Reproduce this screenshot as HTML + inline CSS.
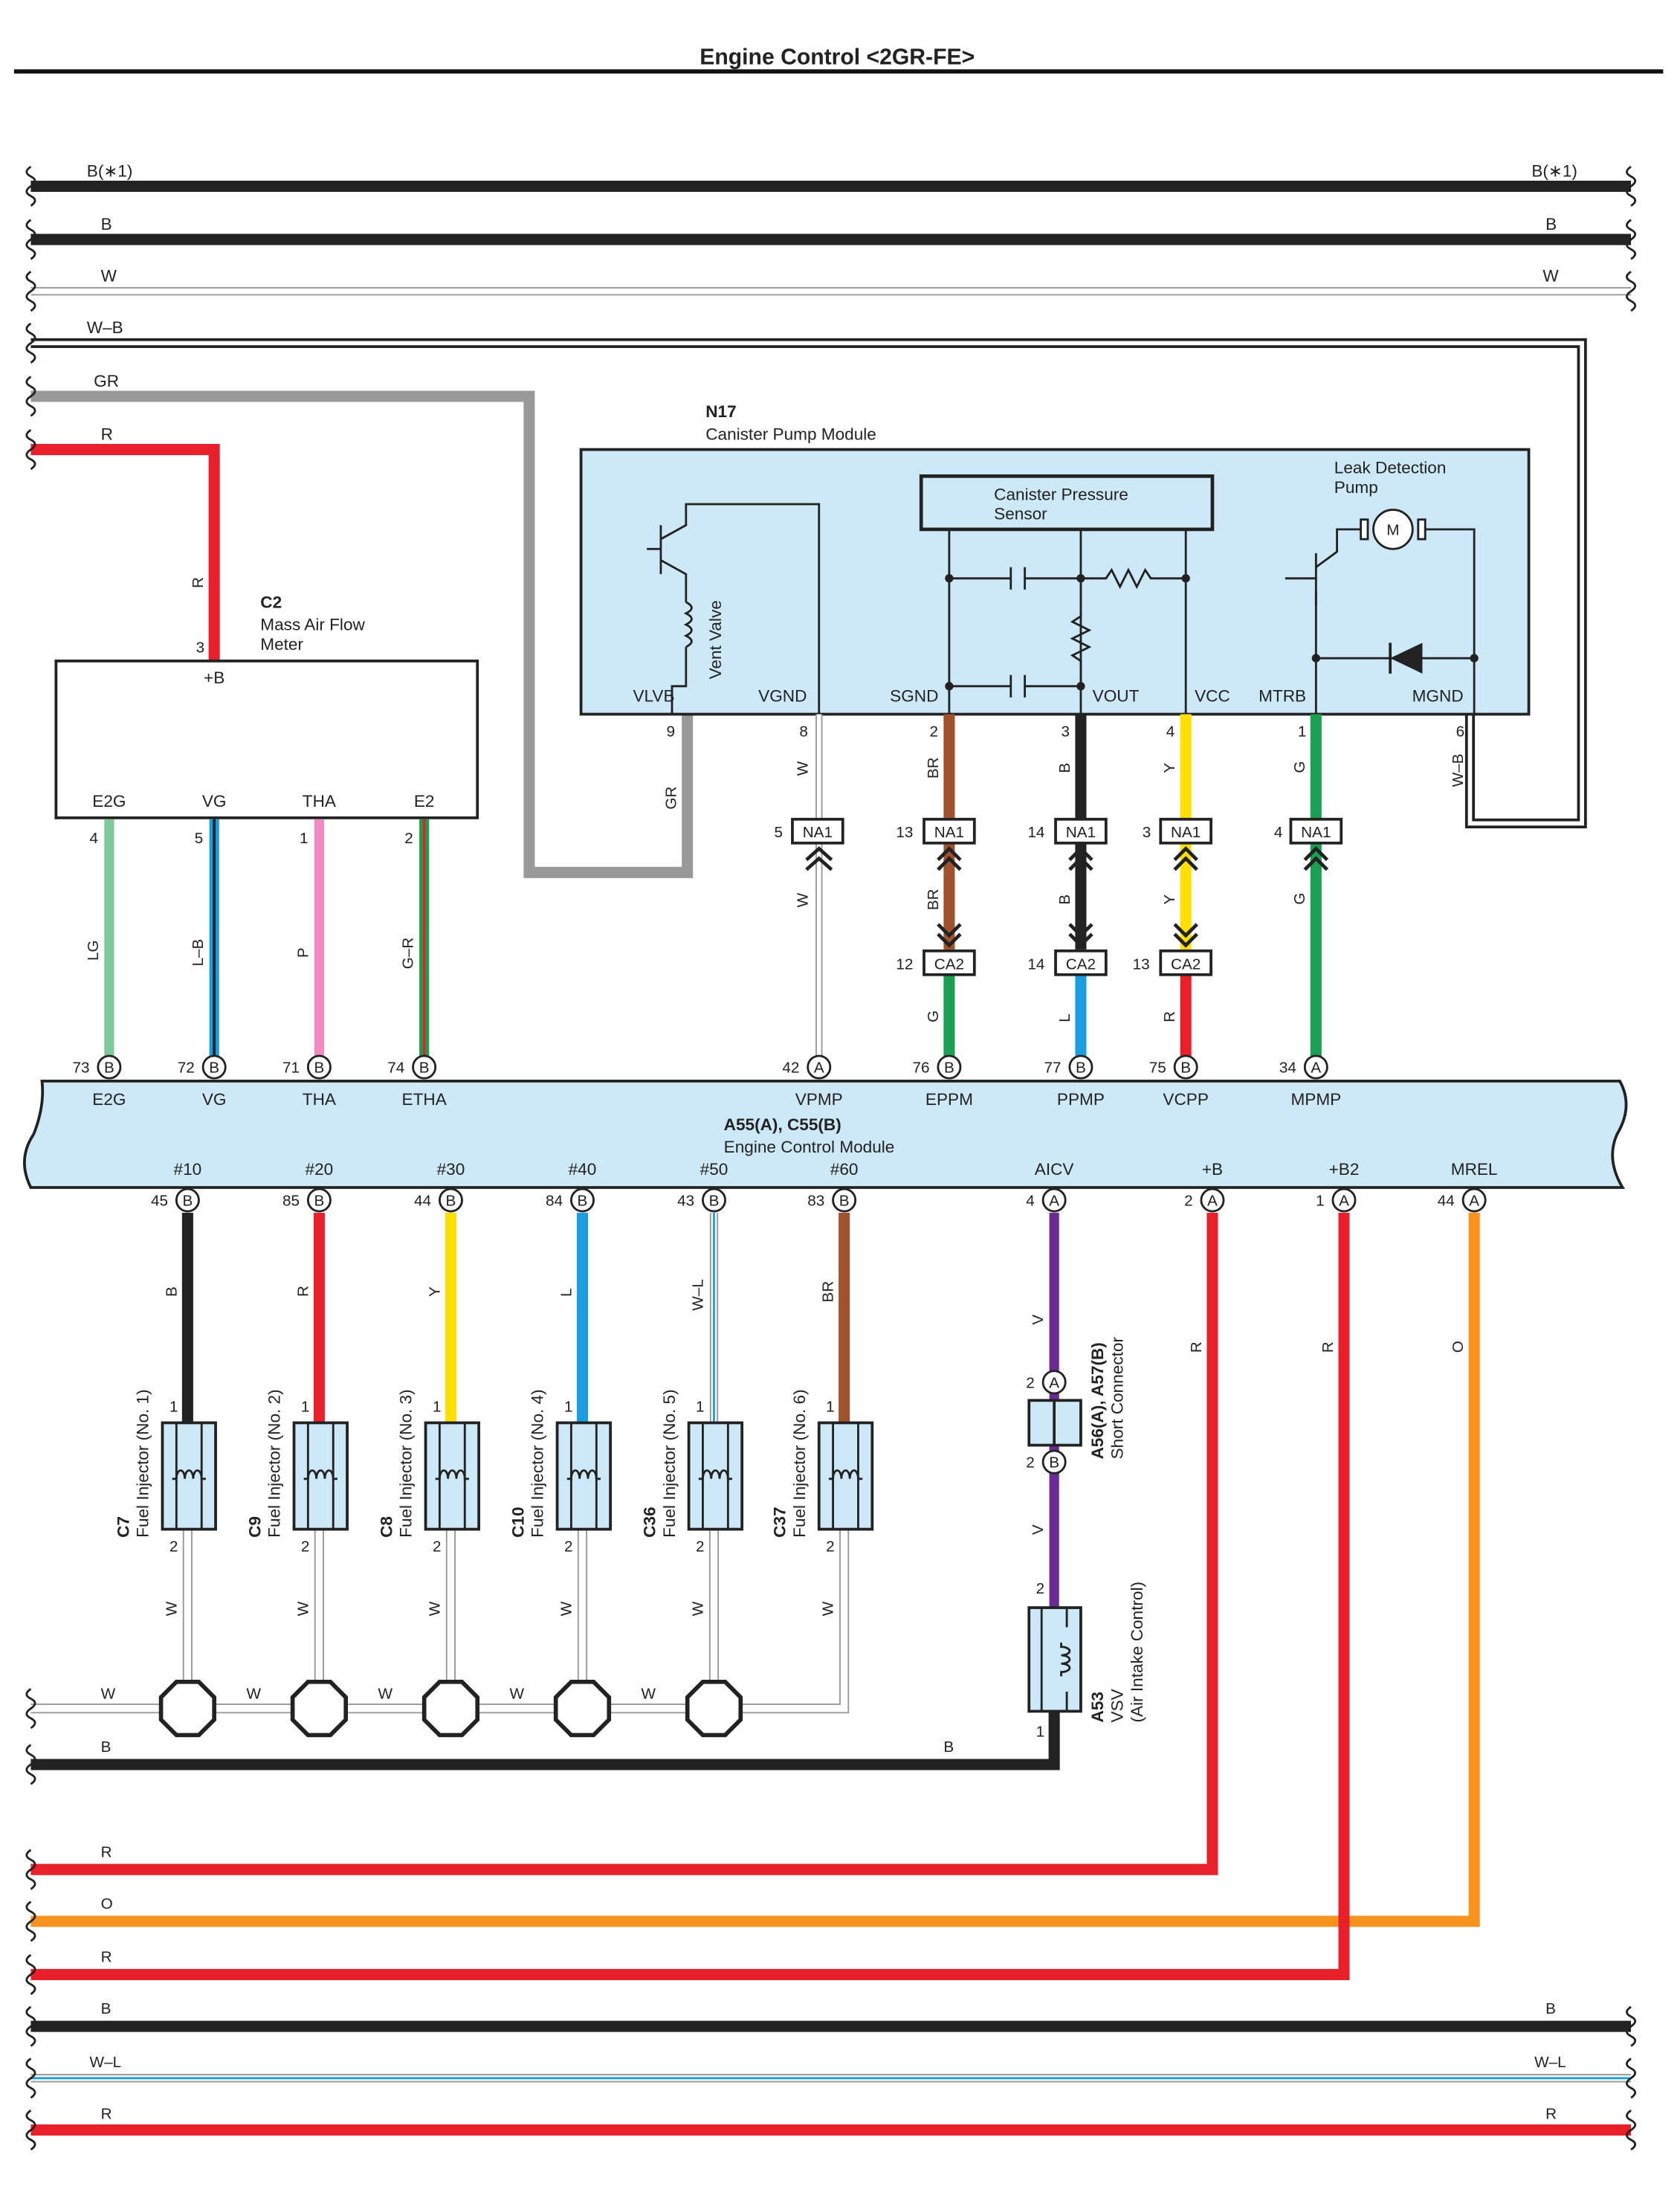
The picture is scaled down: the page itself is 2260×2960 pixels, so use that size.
<!DOCTYPE html>
<html><head><meta charset="utf-8"><style>
html,body{margin:0;padding:0;background:#fff}
svg{display:block}
text{font-family:"Liberation Sans",sans-serif;fill:#222}
</style></head><body>
<svg width="2260" height="2960" viewBox="0 0 1200 1571.7" xmlns="http://www.w3.org/2000/svg">
<defs>
<g id="sq"><path d="M0,-14 q-6,4 0,7 q6,3 0,7 q-6,4 0,7 q6,3 0,7" fill="none" stroke="#222" stroke-width="1.5"/></g>
<path id="coil" d="M-12,0 H-9 a3,6 0 1 1 6,0 a3,6 0 1 1 6,0 a3,6 0 1 1 6,0 H12" fill="none" stroke="#222" stroke-width="1.5"/>
</defs>
<text x="598" y="46" font-size="16" font-weight="bold" text-anchor="middle">Engine Control &lt;2GR-FE&gt;</text>
<line x1="10" y1="51" x2="1188" y2="51" stroke="#111" stroke-width="3"/>

<!-- top buses -->
<line x1="22" y1="133" x2="1165" y2="133" stroke="#222" stroke-width="8"/>
<line x1="22" y1="171" x2="1165" y2="171" stroke="#222" stroke-width="8"/>
<line x1="22" y1="208" x2="1165" y2="208" stroke="#999" stroke-width="6"/><line x1="22" y1="208" x2="1165" y2="208" stroke="#fff" stroke-width="4"/>
<path d="M22,245 H1130 V588 H1050 V510" fill="none" stroke="#222" stroke-width="7"/>
<path d="M22,245 H1130 V588 H1050 V510" fill="none" stroke="#fff" stroke-width="3"/>
<path d="M22,283 H378 V623 H491 V510" fill="none" stroke="#999" stroke-width="8"/>
<path d="M22,321 H153 V472" fill="none" stroke="#e8202a" stroke-width="8"/>
<g font-size="12"><text x="62" y="126">B(∗1)</text><text x="1094" y="126">B(∗1)</text>
<text x="72" y="164">B</text><text x="1104" y="164">B</text>
<text x="72" y="201">W</text><text x="1102" y="201">W</text>
<text x="62" y="238">W–B</text><text x="67" y="276">GR</text><text x="72" y="314">R</text></g>
<use href="#sq" x="22" y="133"/><use href="#sq" x="22" y="171"/><use href="#sq" x="22" y="208"/><use href="#sq" x="22" y="245"/><use href="#sq" x="22" y="283"/><use href="#sq" x="22" y="321"/>
<use href="#sq" x="1165" y="133"/><use href="#sq" x="1165" y="171"/><use href="#sq" x="1165" y="208"/>

<!-- C2 -->
<text x="186" y="434" font-size="12" font-weight="bold">C2</text>
<text x="186" y="450" font-size="12">Mass Air Flow</text><text x="186" y="464" font-size="12">Meter</text>
<text x="140" y="466" font-size="11">3</text>
<text x="145" y="420" font-size="11" transform="rotate(-90 145 420)">R</text>
<rect x="40" y="472" width="301" height="112" fill="#fff" stroke="#222" stroke-width="2"/>
<g font-size="12" text-anchor="middle"><text x="153" y="488">+B</text><text x="78" y="576">E2G</text><text x="153" y="576">VG</text><text x="228" y="576">THA</text><text x="303" y="576">E2</text></g>
<line x1="78" y1="585" x2="78" y2="760" stroke="#7ec89a" stroke-width="7"/>
<line x1="153" y1="585" x2="153" y2="760" stroke="#1a9ee0" stroke-width="7"/><line x1="153" y1="585" x2="153" y2="760" stroke="#222" stroke-width="2"/>
<line x1="228" y1="585" x2="228" y2="760" stroke="#f08ac0" stroke-width="7"/>
<line x1="303" y1="585" x2="303" y2="760" stroke="#1aa050" stroke-width="7"/><line x1="303" y1="585" x2="303" y2="760" stroke="#e8202a" stroke-width="2"/>
<g font-size="11"><text x="64" y="602">4</text><text x="139" y="602">5</text><text x="214" y="602">1</text><text x="289" y="602">2</text>
<text x="70" y="686" transform="rotate(-90 70 686)">LG</text><text x="145" y="690" transform="rotate(-90 145 690)">L–B</text><text x="220" y="684" transform="rotate(-90 220 684)">P</text><text x="295" y="692" transform="rotate(-90 295 692)">G–R</text></g>

<!-- N17 -->
<text x="504" y="298" font-size="12" font-weight="bold">N17</text>
<text x="504" y="314" font-size="12">Canister Pump Module</text>
<rect x="415" y="321" width="677" height="189" fill="#cde9f8" stroke="#222" stroke-width="2"/>
<g fill="none" stroke="#222" stroke-width="1.5">
<line x1="472" y1="375" x2="472" y2="410"/><line x1="462" y1="392" x2="472" y2="392"/>
<path d="M472,385 L490,375 V360 H585 V510"/><path d="M472,400 L490,410 V430"/>
<path d="M490,430 q8,4 0,8 q8,4 0,8 q8,4 0,8 q8,4 0,8"/><path d="M490,462 V490 H480 V510"/>
<rect x="658" y="340" width="208" height="38" stroke-width="2.5" fill="#cde9f8"/>
<path d="M678,378 V510 M772,378 V510 M847,378 V510"/>
<path d="M678,413 H722 M732,413 H772 M722,405 V421 M732,405 V421"/>
<path d="M772,413 H790 l4,-6 l6,12 l6,-12 l6,12 l6,-12 l4,6 H847"/>
<path d="M772,413 V440 l-6,4 l12,6 l-12,6 l12,6 l-12,6 l6,4 V490"/>
<path d="M678,490 H722 M732,490 H772 M722,482 V498 M732,482 V498"/>
<line x1="940" y1="395" x2="940" y2="432"/><line x1="918" y1="413" x2="940" y2="413"/>
<path d="M940,405 L955,394 V378 H975 M1015,378 H1053 V510"/><path d="M940,422 L940,470 V510"/>
<circle cx="995" cy="378" r="14" fill="#fff"/><rect x="972" y="371" width="5" height="14" fill="#fff"/><rect x="1013" y="371" width="5" height="14" fill="#fff"/>
<path d="M940,470 H1053"/></g>
<path d="M993,470 L1016,459 V481 Z" fill="#222"/><line x1="993" y1="459" x2="993" y2="481" stroke="#222" stroke-width="2"/>
<g fill="#222"><circle cx="678" cy="413" r="3"/><circle cx="772" cy="413" r="3"/><circle cx="847" cy="413" r="3"/><circle cx="678" cy="490" r="3"/><circle cx="772" cy="490" r="3"/><circle cx="940" cy="470" r="3"/><circle cx="1053" cy="470" r="3"/></g>
<text x="995" y="382" font-size="11" text-anchor="middle">M</text>
<text x="710" y="357" font-size="12">Canister Pressure</text><text x="710" y="371" font-size="12">Sensor</text>
<text x="953" y="338" font-size="12">Leak Detection</text><text x="953" y="352" font-size="12">Pump</text>
<text x="515" y="485" font-size="12" transform="rotate(-90 515 485)">Vent Valve</text>
<g font-size="12" text-anchor="middle"><text x="467" y="501">VLVB</text><text x="559" y="501">VGND</text><text x="653" y="501">SGND</text><text x="797" y="501">VOUT</text><text x="866" y="501">VCC</text><text x="916" y="501">MTRB</text><text x="1027" y="501">MGND</text></g>
<g font-size="11"><text x="476" y="526">9</text><text x="571" y="526">8</text><text x="664" y="526">2</text><text x="758" y="526">3</text><text x="833" y="526">4</text><text x="927" y="526">1</text><text x="1040" y="526">6</text>
<text x="483" y="578" transform="rotate(-90 483 578)">GR</text><text x="1045" y="562" transform="rotate(-90 1045 562)">W–B</text></g>

<!-- N17 wires -->
<g>
<line x1="585" y1="510" x2="585" y2="760" stroke="#999" stroke-width="5"/><line x1="585" y1="510" x2="585" y2="760" stroke="#fff" stroke-width="3"/>
<line x1="678" y1="510" x2="678" y2="678" stroke="#a0522d" stroke-width="8"/><line x1="678" y1="696" x2="678" y2="760" stroke="#1aa050" stroke-width="8"/>
<line x1="772" y1="510" x2="772" y2="678" stroke="#222" stroke-width="8"/><line x1="772" y1="696" x2="772" y2="760" stroke="#1a9ee0" stroke-width="8"/>
<line x1="847" y1="510" x2="847" y2="678" stroke="#ffe000" stroke-width="8"/><line x1="847" y1="696" x2="847" y2="760" stroke="#e8202a" stroke-width="8"/>
<line x1="940" y1="510" x2="940" y2="760" stroke="#1aa050" stroke-width="8"/>
</g>
<g font-size="11">
<text x="577" y="554" transform="rotate(-90 577 554)">W</text><text x="670" y="556" transform="rotate(-90 670 556)">BR</text><text x="764" y="552" transform="rotate(-90 764 552)">B</text><text x="839" y="552" transform="rotate(-90 839 552)">Y</text><text x="932" y="552" transform="rotate(-90 932 552)">G</text>
<text x="577" y="648" transform="rotate(-90 577 648)">W</text><text x="670" y="650" transform="rotate(-90 670 650)">BR</text><text x="764" y="646" transform="rotate(-90 764 646)">B</text><text x="839" y="646" transform="rotate(-90 839 646)">Y</text><text x="932" y="646" transform="rotate(-90 932 646)">G</text>
<text x="670" y="730" transform="rotate(-90 670 730)">G</text><text x="764" y="730" transform="rotate(-90 764 730)">L</text><text x="839" y="730" transform="rotate(-90 839 730)">R</text>
<text x="553" y="598">5</text><text x="640" y="598">13</text><text x="734" y="598">14</text><text x="816" y="598">3</text><text x="910" y="598">4</text>
<text x="640" y="692">12</text><text x="734" y="692">14</text><text x="809" y="692">13</text></g>
<g font-size="11" text-anchor="middle">
<g stroke="#222" stroke-width="2" fill="#fff"><rect x="566" y="585" width="36" height="17"/><rect x="660" y="585" width="36" height="17"/><rect x="754" y="585" width="36" height="17"/><rect x="829" y="585" width="36" height="17"/><rect x="922" y="585" width="36" height="17"/>
<rect x="660" y="679" width="36" height="17"/><rect x="754" y="679" width="36" height="17"/><rect x="829" y="679" width="36" height="17"/></g>
<text x="584" y="598">NA1</text><text x="678" y="598">NA1</text><text x="772" y="598">NA1</text><text x="847" y="598">NA1</text><text x="940" y="598">NA1</text>
<text x="678" y="692">CA2</text><text x="772" y="692">CA2</text><text x="847" y="692">CA2</text></g>
<g fill="none" stroke="#222" stroke-width="2.5">
<path d="M576,614 l9,-8 l9,8 M576,621 l9,-8 l9,8"/><path d="M670,614 l8,-8 l8,8 M670,621 l8,-8 l8,8"/><path d="M764,614 l8,-8 l8,8 M764,621 l8,-8 l8,8"/><path d="M839,614 l8,-8 l8,8 M839,621 l8,-8 l8,8"/><path d="M932,614 l8,-8 l8,8 M932,621 l8,-8 l8,8"/>
<path d="M670,660 l8,8 l8,-8 M670,667 l8,8 l8,-8"/><path d="M764,660 l8,8 l8,-8 M764,667 l8,8 l8,-8"/><path d="M839,660 l8,8 l8,-8 M839,667 l8,8 l8,-8"/></g>

<!-- ECM -->
<path d="M30,772 H1157 q10,18 -2,38 q-8,18 4,38 H22 q-10,-20 2,-38 q8,-20 6,-38 Z" fill="#cde9f8" stroke="#222" stroke-width="2"/>
<g font-size="12" text-anchor="middle">
<text x="78" y="789">E2G</text><text x="153" y="789">VG</text><text x="228" y="789">THA</text><text x="303" y="789">ETHA</text><text x="585" y="789">VPMP</text><text x="678" y="789">EPPM</text><text x="772" y="789">PPMP</text><text x="847" y="789">VCPP</text><text x="940" y="789">MPMP</text>
<text x="134" y="839">#10</text><text x="228" y="839">#20</text><text x="322" y="839">#30</text><text x="416" y="839">#40</text><text x="510" y="839">#50</text><text x="603" y="839">#60</text><text x="753" y="839">AICV</text><text x="866" y="839">+B</text><text x="960" y="839">+B2</text><text x="1053" y="839">MREL</text></g>
<text x="517" y="807" font-size="12" font-weight="bold">A55(A), C55(B)</text>
<text x="517" y="823" font-size="12">Engine Control Module</text>
<g stroke="#222" stroke-width="1.5" fill="#fff">
<circle cx="78" cy="762" r="8"/><circle cx="153" cy="762" r="8"/><circle cx="228" cy="762" r="8"/><circle cx="303" cy="762" r="8"/><circle cx="585" cy="762" r="8"/><circle cx="678" cy="762" r="8"/><circle cx="772" cy="762" r="8"/><circle cx="847" cy="762" r="8"/><circle cx="940" cy="762" r="8"/>
<circle cx="134" cy="857" r="8"/><circle cx="228" cy="857" r="8"/><circle cx="322" cy="857" r="8"/><circle cx="416" cy="857" r="8"/><circle cx="510" cy="857" r="8"/><circle cx="603" cy="857" r="8"/><circle cx="753" cy="857" r="8"/><circle cx="866" cy="857" r="8"/><circle cx="960" cy="857" r="8"/><circle cx="1053" cy="857" r="8"/>
</g>
<g font-size="11" text-anchor="middle">
<text x="78" y="766">B</text><text x="153" y="766">B</text><text x="228" y="766">B</text><text x="303" y="766">B</text><text x="585" y="766">A</text><text x="678" y="766">B</text><text x="772" y="766">B</text><text x="847" y="766">B</text><text x="940" y="766">A</text>
<text x="134" y="861">B</text><text x="228" y="861">B</text><text x="322" y="861">B</text><text x="416" y="861">B</text><text x="510" y="861">B</text><text x="603" y="861">B</text><text x="753" y="861">A</text><text x="866" y="861">A</text><text x="960" y="861">A</text><text x="1053" y="861">A</text>
</g>
<g font-size="11" text-anchor="end">
<text x="64" y="766">73</text><text x="139" y="766">72</text><text x="214" y="766">71</text><text x="289" y="766">74</text><text x="571" y="766">42</text><text x="664" y="766">76</text><text x="758" y="766">77</text><text x="833" y="766">75</text><text x="926" y="766">34</text>
<text x="120" y="861">45</text><text x="214" y="861">85</text><text x="308" y="861">44</text><text x="402" y="861">84</text><text x="496" y="861">43</text><text x="589" y="861">83</text><text x="739" y="861">4</text><text x="852" y="861">2</text><text x="946" y="861">1</text><text x="1039" y="861">44</text>
<text x="739" y="991">2</text><text x="739" y="1048">2</text></g>

<!-- injector wires -->
<line x1="134" y1="866" x2="134" y2="1016" stroke="#222" stroke-width="8"/>
<line x1="228" y1="866" x2="228" y2="1016" stroke="#e8202a" stroke-width="8"/>
<line x1="322" y1="866" x2="322" y2="1016" stroke="#ffe000" stroke-width="8"/>
<line x1="416" y1="866" x2="416" y2="1016" stroke="#1a9ee0" stroke-width="8"/>
<line x1="510" y1="866" x2="510" y2="1016" stroke="#999" stroke-width="6"/><line x1="510" y1="866" x2="510" y2="1016" stroke="#fff" stroke-width="4"/><line x1="510" y1="866" x2="510" y2="1016" stroke="#1a9ee0" stroke-width="1.5"/>
<line x1="603" y1="866" x2="603" y2="1016" stroke="#a0522d" stroke-width="8"/>
<!-- W lower -->
<g fill="none">
<path d="M22,1220 H603 V1092 M134,1092 V1220 M228,1092 V1220 M322,1092 V1220 M416,1092 V1220 M510,1092 V1220" stroke="#999" stroke-width="7"/>
<path d="M22,1220 H603 V1092 M134,1092 V1220 M228,1092 V1220 M322,1092 V1220 M416,1092 V1220 M510,1092 V1220" stroke="#fff" stroke-width="5"/>
<path d="M22,1260 H753 V1222" stroke="#222" stroke-width="8"/>
<path d="M753,866 V1000 M753,1032 V1148" stroke="#6a2c91" stroke-width="7"/>
<path d="M866,866 V1335 H22" stroke="#e8202a" stroke-width="8"/>
<path d="M1053,866 V1372 H22" stroke="#f7931e" stroke-width="8"/>
<path d="M960,866 V1410 H22" stroke="#e8202a" stroke-width="8"/>
</g>
<g stroke="#222" stroke-width="1.5" fill="#fff"><circle cx="753" cy="987" r="8"/><circle cx="753" cy="1044" r="8"/></g>
<g font-size="11" text-anchor="middle"><text x="753" y="991">A</text><text x="753" y="1048">B</text></g>
<g stroke="#222" stroke-width="3" fill="#fff">
<polygon points="126,1201 142,1201 153,1212 153,1228 142,1239 126,1239 115,1228 115,1212"/>
<polygon points="220,1201 236,1201 247,1212 247,1228 236,1239 220,1239 209,1228 209,1212"/>
<polygon points="314,1201 330,1201 341,1212 341,1228 330,1239 314,1239 303,1228 303,1212"/>
<polygon points="408,1201 424,1201 435,1212 435,1228 424,1239 408,1239 397,1228 397,1212"/>
<polygon points="502,1201 518,1201 529,1212 529,1228 518,1239 502,1239 491,1228 491,1212"/></g>
<!-- injectors -->
<g fill="#cde9f8" stroke="#222" stroke-width="2">
<rect x="116" y="1016" width="38" height="76"/><rect x="210" y="1016" width="38" height="76"/><rect x="304" y="1016" width="38" height="76"/><rect x="398" y="1016" width="38" height="76"/><rect x="492" y="1016" width="38" height="76"/><rect x="585" y="1016" width="38" height="76"/>
<rect x="735" y="1148" width="37" height="74"/></g>
<g fill="none" stroke="#222" stroke-width="1.5">
<path d="M126,1016 V1092 M144,1016 V1092"/><path d="M220,1016 V1092 M238,1016 V1092"/><path d="M314,1016 V1092 M332,1016 V1092"/><path d="M408,1016 V1092 M426,1016 V1092"/><path d="M502,1016 V1092 M520,1016 V1092"/><path d="M595,1016 V1092 M613,1016 V1092"/>
<path d="M744,1148 V1222 M762,1148 V1162 M762,1208 V1222"/></g>
<use href="#coil" x="135" y="1056"/><use href="#coil" x="229" y="1056"/><use href="#coil" x="323" y="1056"/><use href="#coil" x="417" y="1056"/><use href="#coil" x="511" y="1056"/><use href="#coil" x="604" y="1056"/>
<use href="#coil" transform="translate(758 1185) rotate(90)"/>
<g fill="#cde9f8" stroke="#222" stroke-width="2"><rect x="735" y="1000" width="37" height="32"/></g>
<line x1="753" y1="1000" x2="753" y2="1032" stroke="#222" stroke-width="2"/>
<g font-size="11">
<text x="126" y="926" transform="rotate(-90 126 926)">B</text><text x="220" y="926" transform="rotate(-90 220 926)">R</text><text x="314" y="926" transform="rotate(-90 314 926)">Y</text><text x="408" y="926" transform="rotate(-90 408 926)">L</text><text x="502" y="936" transform="rotate(-90 502 936)">W–L</text><text x="595" y="930" transform="rotate(-90 595 930)">BR</text>
<text x="126" y="1154" transform="rotate(-90 126 1154)">W</text><text x="220" y="1154" transform="rotate(-90 220 1154)">W</text><text x="314" y="1154" transform="rotate(-90 314 1154)">W</text><text x="408" y="1154" transform="rotate(-90 408 1154)">W</text><text x="502" y="1154" transform="rotate(-90 502 1154)">W</text><text x="595" y="1154" transform="rotate(-90 595 1154)">W</text>
<text x="745" y="946" transform="rotate(-90 745 946)">V</text><text x="745" y="1096" transform="rotate(-90 745 1096)">V</text>
<text x="858" y="966" transform="rotate(-90 858 966)">R</text><text x="952" y="966" transform="rotate(-90 952 966)">R</text><text x="1045" y="966" transform="rotate(-90 1045 966)">O</text>
<text x="121" y="1008">1</text><text x="215" y="1008">1</text><text x="309" y="1008">1</text><text x="403" y="1008">1</text><text x="497" y="1008">1</text><text x="590" y="1008">1</text>
<text x="121" y="1108">2</text><text x="215" y="1108">2</text><text x="309" y="1108">2</text><text x="403" y="1108">2</text><text x="497" y="1108">2</text><text x="590" y="1108">2</text>
<text x="740" y="1138">2</text><text x="740" y="1240">1</text>
<text x="72" y="1213">W</text><text x="176" y="1213">W</text><text x="270" y="1213">W</text><text x="364" y="1213">W</text><text x="458" y="1213">W</text>
<text x="72" y="1251">B</text><text x="674" y="1251">B</text>
<text x="72" y="1326">R</text><text x="72" y="1363">O</text><text x="72" y="1401">R</text>
<text x="72" y="1438">B</text><text x="1104" y="1438">B</text><text x="64" y="1476">W–L</text><text x="1096" y="1476">W–L</text><text x="72" y="1513">R</text><text x="1104" y="1513">R</text></g>
<g font-size="12">
<text x="92" y="1098" transform="rotate(-90 92 1098)"><tspan font-weight="bold">C7</tspan></text><text x="106" y="1098" transform="rotate(-90 106 1098)">Fuel Injector (No. 1)</text>
<text x="186" y="1098" transform="rotate(-90 186 1098)"><tspan font-weight="bold">C9</tspan></text><text x="200" y="1098" transform="rotate(-90 200 1098)">Fuel Injector (No. 2)</text>
<text x="280" y="1098" transform="rotate(-90 280 1098)"><tspan font-weight="bold">C8</tspan></text><text x="294" y="1098" transform="rotate(-90 294 1098)">Fuel Injector (No. 3)</text>
<text x="374" y="1098" transform="rotate(-90 374 1098)"><tspan font-weight="bold">C10</tspan></text><text x="388" y="1098" transform="rotate(-90 388 1098)">Fuel Injector (No. 4)</text>
<text x="468" y="1098" transform="rotate(-90 468 1098)"><tspan font-weight="bold">C36</tspan></text><text x="482" y="1098" transform="rotate(-90 482 1098)">Fuel Injector (No. 5)</text>
<text x="561" y="1098" transform="rotate(-90 561 1098)"><tspan font-weight="bold">C37</tspan></text><text x="575" y="1098" transform="rotate(-90 575 1098)">Fuel Injector (No. 6)</text>
<text x="788" y="1042" transform="rotate(-90 788 1042)" font-weight="bold">A56(A), A57(B)</text><text x="802" y="1042" transform="rotate(-90 802 1042)">Short Connector</text>
<text x="788" y="1230" transform="rotate(-90 788 1230)" font-weight="bold">A53</text><text x="802" y="1230" transform="rotate(-90 802 1230)">VSV</text><text x="816" y="1230" transform="rotate(-90 816 1230)">(Air Intake Control)</text></g>

<!-- bottom buses -->
<line x1="22" y1="1447" x2="1165" y2="1447" stroke="#222" stroke-width="8"/>
<line x1="22" y1="1484" x2="1165" y2="1484" stroke="#999" stroke-width="6"/><line x1="22" y1="1484" x2="1165" y2="1484" stroke="#fff" stroke-width="4"/><line x1="22" y1="1484" x2="1165" y2="1484" stroke="#1a9ee0" stroke-width="1.5"/>
<line x1="22" y1="1521" x2="1165" y2="1521" stroke="#e8202a" stroke-width="8"/>
<use href="#sq" x="22" y="1220"/><use href="#sq" x="22" y="1260"/><use href="#sq" x="22" y="1335"/><use href="#sq" x="22" y="1372"/><use href="#sq" x="22" y="1410"/><use href="#sq" x="22" y="1447"/><use href="#sq" x="22" y="1484"/><use href="#sq" x="22" y="1521"/>
<use href="#sq" x="1165" y="1447"/><use href="#sq" x="1165" y="1484"/><use href="#sq" x="1165" y="1521"/>
</svg>
</body></html>
